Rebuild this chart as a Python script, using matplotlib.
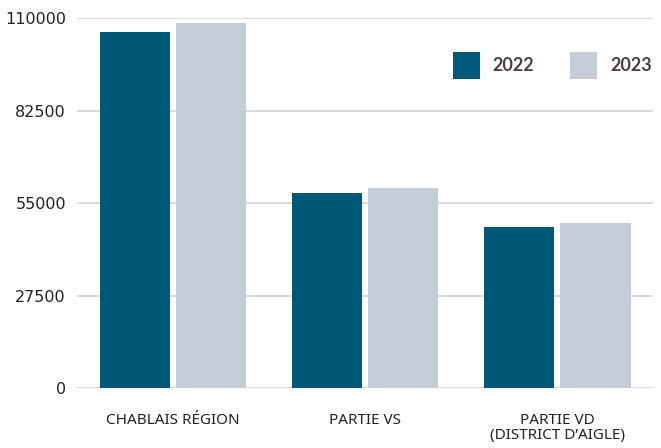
import numpy as np
import matplotlib.pyplot as plt

categories = ["CHABLAIS RÉGION", "PARTIE VS", "PARTIE VD\n(DISTRICT D’AIGLE)"]
years = ["2022", "2023"]
values_2022 = [105800, 58000, 48000]
values_2023 = [108500, 59500, 49000]
yticks = [0, 27500, 55000, 82500, 110000]

colors = ["#005878", "#c6ccd7"]

fig = plt.figure(figsize=(6.61, 4.48), dpi=100)
ax = fig.add_axes([0.1165, 0.1339, 0.8715, 0.8259])

x = np.arange(len(categories))
w = 0.365
b1 = ax.bar(x - 0.2, values_2022, w, color=colors[0], label=years[0], zorder=3)
b2 = ax.bar(x + 0.2, values_2023, w, color=colors[1], label=years[1], zorder=3)

ax.set_xlim(-0.5, 2.5)
ax.set_ylim(0, 110000)
ax.set_yticks(yticks)
ax.set_yticklabels([str(v) for v in yticks], fontsize=11.5, color="#222222",
                   family="DejaVu Sans")
ax.set_xticks(x)
ax.set_xticklabels(categories, fontsize=11, color="#222222", family="Noto Sans",
                   linespacing=0.98)
ax.tick_params(axis="both", length=0)
ax.tick_params(axis="y", pad=8)
ax.tick_params(axis="x", pad=18)

ax.grid(axis="y", color="#d6d1d4", linewidth=1.2, zorder=0)
for s in ax.spines.values():
    s.set_visible(False)

leg = ax.legend(handles=[b1, b2], ncol=2, loc="upper right",
                bbox_to_anchor=(1.026, 0.952), frameon=False,
                handlelength=1.5, handleheight=1.9, handletextpad=0.7,
                columnspacing=2.0, prop={"family": "Lato", "weight": "bold", "size": 13})
for t in leg.get_texts():
    t.set_color("#4a3f46")

fig.savefig("out.png", dpi=100)
